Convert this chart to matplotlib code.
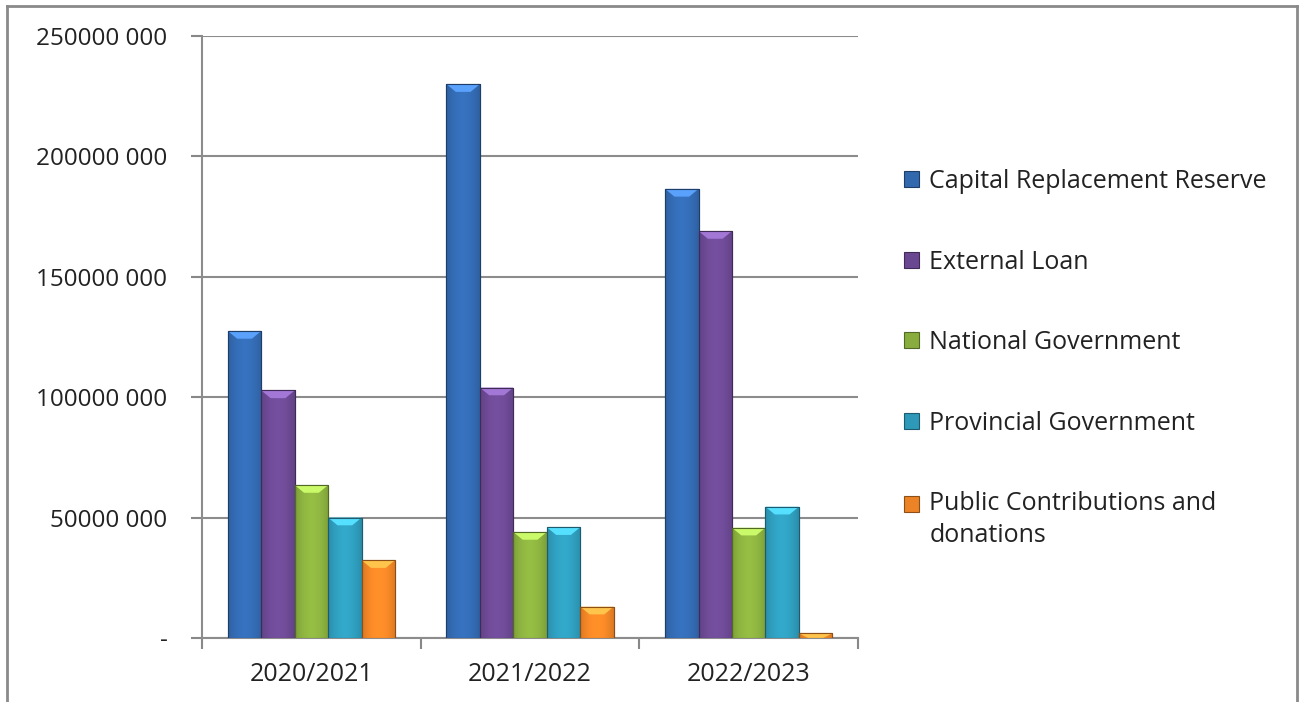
import matplotlib
matplotlib.use("Agg")
import matplotlib.pyplot as plt
import numpy as np
from matplotlib.colors import to_rgb
from matplotlib.lines import Line2D
from matplotlib.patches import Rectangle
from matplotlib.legend_handler import HandlerPatch, update_from_first_child
from matplotlib.ticker import FuncFormatter, FixedLocator

categories = ["2020/2021", "2021/2022", "2022/2023"]
series = ["Capital Replacement Reserve", "External Loan", "National Government",
          "Provincial Government", "Public Contributions and\ndonations"]
capital_reserve = [127.5e6, 230.0e6, 186.5e6]
external_loan = [102.8e6, 104.0e6, 169.0e6]
national_gov = [63.5e6, 44.0e6, 45.8e6]
provincial_gov = [50.0e6, 46.0e6, 54.5e6]
public_contrib = [32.3e6, 13.0e6, 1.9e6]
values = [capital_reserve, external_loan, national_gov, provincial_gov, public_contrib]
colors = ["#3268AE", "#6A4891", "#88AD3E", "#2E99B8", "#EC8326"]
yticks = [0, 50e6, 100e6, 150e6, 200e6, 250e6]

plt.rcParams['font.family'] = ['Open Sans', 'DejaVu Sans']

fig = plt.figure(figsize=(13.04, 7.02), dpi=100)
ax = fig.add_axes([0.155, 0.0912, 0.503, 0.8575])

x = np.arange(len(categories))
w = 0.153
n = len(series)
handles = []
for i, (vals, col) in enumerate(zip(values, colors)):
    pos = x + (i - (n - 1) / 2) * w
    base = np.array(to_rgb(col))
    dark = base * 0.6
    bars = ax.bar(pos, vals, width=w, color=col, edgecolor=tuple(dark), linewidth=0.8,
                  label=series[i], zorder=3)
    handles.append(bars)
    t = np.linspace(0, 1, 64)
    shade = 0.78 + 0.32 * np.sin(np.pi * (0.15 + 0.7 * t))
    img = np.clip(base[None, :] * shade[:, None], 0, 1)[None, :, :]
    for b in bars:
        bx, by, bw, bh = b.get_x(), b.get_y(), b.get_width(), b.get_height()
        im = ax.imshow(img, extent=[bx, bx + bw, by, by + bh], aspect='auto',
                       zorder=3.5, interpolation='bilinear')
        im.set_clip_path(b)
        bev = min(bh, 3.2e6)
        light = np.clip(base * 1.3 + 0.1, 0, 1)
        ax.fill([bx, bx + bw, bx + bw * 0.72, bx + bw * 0.28],
                [by + bh, by + bh, by + bh - bev, by + bh - bev],
                color=tuple(light), zorder=3.6, lw=0)
        ax.bar(bx + bw / 2, bh, width=bw, bottom=by, fill=False,
               edgecolor=tuple(dark), linewidth=0.8, zorder=3.7)

ax.set_xlim(-0.5, 2.5)
ax.set_ylim(0, 250e6)
ax.yaxis.set_major_locator(FixedLocator(yticks))
ax.yaxis.set_major_formatter(FuncFormatter(
    lambda v, p: "-" if v == 0 else f"{int(round(v / 1000))} 000"))
ax.set_xticks(x)
ax.set_xticklabels(categories, fontsize=18)
ax.xaxis.set_minor_locator(FixedLocator([-0.5, 0.5, 1.5, 2.5]))
ax.tick_params(axis='x', which='major', length=0, pad=17)
ax.tick_params(axis='x', which='minor', length=8, width=1.5, color='#888888')
ax.tick_params(axis='y', length=8, width=1.5, color='#888888', labelsize=17.5, pad=17)
for lab in ax.get_yticklabels() + ax.get_xticklabels():
    lab.set_color('#222222')

ax.grid(axis='y', color='#8c8c8c', linewidth=1.5, zorder=0)
for s in ['top', 'right']:
    ax.spines[s].set_visible(False)
for s in ['left', 'bottom']:
    ax.spines[s].set_color('#8c8c8c')
    ax.spines[s].set_linewidth(1.5)


def raised_patch(legend, orig_handle, xdescent, ydescent, width, height, fontsize):
    return Rectangle((-xdescent, -ydescent + 11.5), width, height)


leg = fig.legend(handles=handles, labels=series, loc='upper left',
                 bbox_to_anchor=(0.684, 0.777), frameon=False, fontsize=18,
                 labelspacing=2.22, handlelength=0.6, handleheight=0.6,
                 handletextpad=0.4, borderpad=0,
                 handler_map={handles[4]: HandlerPatch(patch_func=raised_patch,
                                                       update_func=update_from_first_child)})
for tx in leg.get_texts():
    tx.set_color('#222222')
    tx.set_linespacing(1.35)

fc = '#8a8a8a'
fig.add_artist(Line2D([7/1304, 7/1304], [0, 1 - 6/702], transform=fig.transFigure, color=fc, lw=2))
fig.add_artist(Line2D([7/1304, 1297/1304], [1 - 6/702, 1 - 6/702], transform=fig.transFigure, color=fc, lw=2))
fig.add_artist(Line2D([1297/1304, 1297/1304], [0, 1 - 6/702], transform=fig.transFigure, color=fc, lw=2))

fig.savefig("out.png", dpi=100, facecolor='white')
